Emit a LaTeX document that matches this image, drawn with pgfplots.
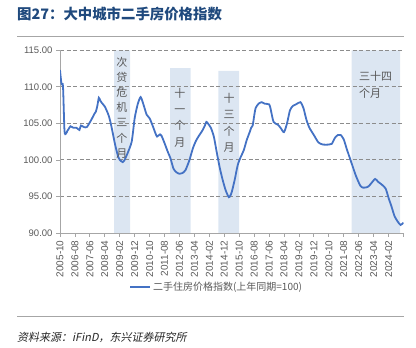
\documentclass[border=0pt]{standalone}
\usepackage{pgfplots}
\pgfplotsset{compat=1.18}
\usepackage{pgfplotstable}
\usepackage{fontspec}
\setmainfont{Liberation Sans}
\newfontfamily\cjk{Noto Sans CJK SC}
\newfontfamily\cjkit[FakeSlant=0.2]{Noto Sans CJK SC}
\definecolor{lineblue}{RGB}{68,114,196}
\definecolor{band}{RGB}{220,230,242}
\definecolor{titleblue}{RGB}{31,73,125}
\definecolor{txtgray}{RGB}{89,89,89}
\definecolor{gridgray}{RGB}{140,140,140}
\definecolor{axgray}{RGB}{166,166,166}

\pgfplotstableread{
m v
0 112.3
1 110.4
2 110.1
3 104.0
4 103.6
5 104.0
6 104.3
7 104.6
9 104.4
11 104.4
13 104.1
14 104.7
16 104.5
18 104.5
21 105.5
23 106.3
24 106.6
25 107.4
26 108.5
27 108.1
28 107.8
30 107.3
32 106.4
33 105.8
34 105.0
35 104.0
37 102.0
39 100.4
40 100.0
42 99.7
43 99.9
45 100.8
48 102.5
50 105.7
52 107.6
54 108.6
56 107.5
58 106.2
60 105.7
62 104.7
64 103.6
65 103.2
67 103.5
68 103.3
70 102.3
72 101.2
74 100.2
76 98.8
78 98.3
80 98.1
82 98.2
84 98.6
86 99.6
87 100.2
89 101.6
91 102.6
93 103.3
95 103.9
97 104.7
98 105.2
99 105.0
101 104.4
103 103.2
105 101.0
107 98.9
109 97.2
111 95.8
113 94.9
114 95.1
115 95.6
117 97.3
119 99.3
121 100.4
123 101.3
125 102.7
127 103.8
128 104.4
129 104.7
130 106.0
131 107.1
133 107.7
135 107.9
137 107.7
140 107.6
141 107.0
143 105.2
146 104.8
148 104.3
150 103.8
152 105.0
154 106.8
156 107.4
158 107.6
161 107.9
163 107.1
165 105.5
167 104.4
170 103.4
173 102.4
176 102.1
180 102.1
182 102.2
184 103.0
186 103.4
188 103.4
190 102.8
192 101.5
195 99.7
198 97.9
201 96.5
203 96.2
206 96.3
208 96.7
211 97.4
213 97.0
215 96.7
218 96.1
220 94.8
222 93.6
224 92.3
226 91.6
228 91.1
230 91.4
}\hpi

\begin{document}
\begin{tikzpicture}
\path (0,0) rectangle (416bp,348bp);
\node[anchor=west, inner sep=0pt, text=titleblue, font=\cjk\bfseries\fontsize{14.4bp}{16bp}\selectfont] at (17bp,333.5bp) {图27：大中城市二手房价格指数};
\draw[axgray, line width=0.8bp] (17bp,311.3bp) -- (404bp,311.3bp);
\draw[axgray, line width=0.8bp] (17bp,32bp) -- (404bp,32bp);
\node[anchor=west, inner sep=0pt, text=black!85, font=\cjkit\fontsize{11bp}{13bp}\selectfont] at (17bp,11bp) {资料来源：iFinD，东兴证券研究所};
\begin{axis}[
  set layers,
  at={(60bp,115bp)}, anchor=south west,
  scale only axis, width=343.5bp, height=182.7bp,
  xmin=0, xmax=230, ymin=90, ymax=115,
  axis lines=left,
  axis line style={axgray, line width=0.8bp, -},
  tick style={axgray, line width=0.8bp},
  major tick length=4bp,
  tick align=outside,
  ytick={90,95,...,115},
  ymajorgrids,
  grid style={gridgray, line width=0.9bp, dash pattern=on 4bp off 2.5bp},
  xtick={0,10,...,230},
  xticklabels={2005-10,2006-08,2007-06,2008-04,2009-02,2009-12,2010-10,2011-08,2012-06,2013-04,2014-02,2014-12,2015-10,2016-08,2017-06,2018-04,2019-02,2019-12,2020-10,2021-08,2022-06,2023-04,2024-02,{}},
  /pgf/number format/assume math mode=true,
  yticklabel style={/pgf/number format/fixed, /pgf/number format/fixed zerofill, /pgf/number format/precision=2, font=\fontsize{9.5bp}{11bp}\selectfont, text=txtgray},
  xticklabel style={rotate=90, anchor=east, font=\fontsize{10bp}{11bp}\selectfont, text=txtgray},
  legend style={at={(0.456,-0.296)}, anchor=center, draw=none, fill=none, font=\cjk\fontsize{10bp}{12bp}\selectfont, text=txtgray},
  legend image code/.code={\draw[#1] (0bp,0bp) -- (20bp,0bp);},
]
\addplot[fill=band, draw=none, forget plot, on layer=axis background] coordinates {(36.2,90) (36.2,115) (46.9,115) (46.9,90) (36.2,90)};
\addplot[fill=band, draw=none, forget plot, on layer=axis background] coordinates {(73.7,90) (73.7,112.55) (87.5,112.55) (87.5,90) (73.7,90)};
\addplot[fill=band, draw=none, forget plot, on layer=axis background] coordinates {(106,90) (106,112.2) (119.9,112.2) (119.9,90) (106,90)};
\addplot[fill=band, draw=none, forget plot, on layer=axis background] coordinates {(195.3,90) (195.3,115) (227.7,115) (227.7,90) (195.3,90)};
\addplot[lineblue, line width=1.8bp, smooth, tension=0.4] table[x=m,y=v]{\hpi};
\addlegendentry{二手住房价格指数(上年同期=100)}
\node[align=center, inner sep=0pt, text=txtgray, font=\cjk\fontsize{11bp}{15.2bp}\selectfont] at (axis cs:41.5,107.17) {次\\贷\\危\\机\\三\\个\\月};
\node[align=center, inner sep=0pt, text=txtgray, font=\cjk\fontsize{11bp}{16.2bp}\selectfont] at (axis cs:80.3,105.8) {十\\一\\个\\月};
\node[align=center, inner sep=0pt, text=txtgray, font=\cjk\fontsize{11bp}{16.5bp}\selectfont] at (axis cs:113.2,105.05) {十\\三\\个\\月};
\node[align=left, anchor=west, inner sep=0pt, text=txtgray, font=\cjk\fontsize{11bp}{17bp}\selectfont] at (axis cs:200.2,110.32) {三十四\\个月};
\end{axis}
\end{tikzpicture}
\end{document}
